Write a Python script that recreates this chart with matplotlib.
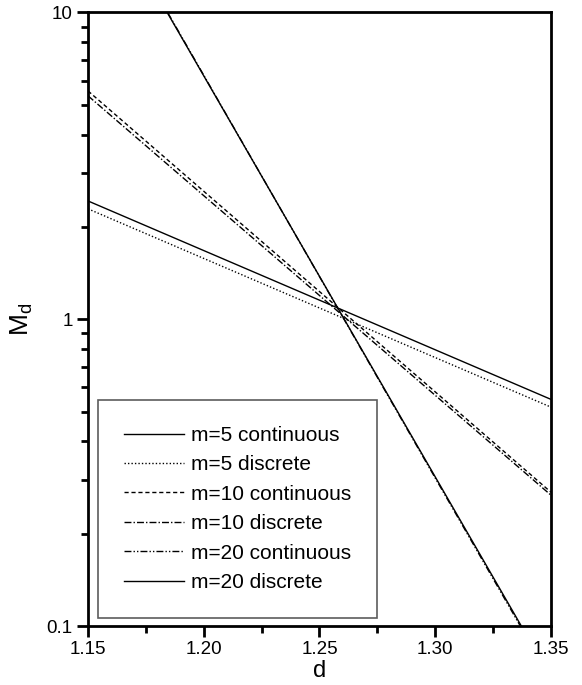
import numpy as np
import matplotlib
matplotlib.use("Agg")
import matplotlib.pyplot as plt
from matplotlib.ticker import LogLocator, FixedLocator, MultipleLocator, NullFormatter, FixedFormatter

plt.rcParams['font.family'] = ['Liberation Sans', 'DejaVu Sans']

## Data (end points, lines are straight on log axis)
d = [1.15, 1.35]
m5_cont = [2.43, 0.548]
m5_disc = [2.29, 0.517]
m10_cont = [5.55, 0.273]
m10_disc = [5.35, 0.267]
m20_cont = [28.3, 0.067]
m20_disc = [28.0, 0.068]

labels = ["m=5 continuous", "m=5 discrete", "m=10 continuous",
          "m=10 discrete", "m=20 continuous", "m=20 discrete"]

## Plot
fig = plt.figure(figsize=(5.82, 6.85), dpi=100)
ax = fig.add_axes([0.1512, 0.0861, 0.7955, 0.8957])

ax.plot(d, m5_cont, color="black", lw=1.0, ls="-", label=labels[0])
ax.plot(d, m5_disc, color="black", lw=1.0, ls=(0, (1, 1.5)), label=labels[1])
ax.plot(d, m10_cont, color="black", lw=1.0, ls=(0, (3, 2)), label=labels[2])
ax.plot(d, m10_disc, color="black", lw=1.0, ls=(0, (5, 1.5, 1, 1.5)), label=labels[3])
ax.plot(d, m20_cont, color="black", lw=1.0, ls=(0, (5, 1.5, 1, 1.5, 1, 1.5)), label=labels[4])
ax.plot(d, m20_disc, color="black", lw=1.0, ls="-", label=labels[5])

ax.set_yscale("log")
ax.set_xlim(1.15, 1.35)
ax.set_ylim(0.1, 10)

ax.xaxis.set_major_locator(MultipleLocator(0.05))
ax.xaxis.set_minor_locator(MultipleLocator(0.025))
ax.xaxis.set_major_formatter(plt.FormatStrFormatter("%.2f"))
ax.yaxis.set_major_locator(FixedLocator([0.1, 1, 10]))
ax.yaxis.set_major_formatter(FixedFormatter(["0.1", "1", "10"]))
ax.yaxis.set_minor_locator(LogLocator(base=10, subs=np.arange(2, 10)))
ax.yaxis.set_minor_formatter(NullFormatter())

ax.tick_params(which="both", direction="out", top=False, right=False,
               width=2, labelsize=13.5)
ax.tick_params(which="major", length=8, pad=3)
ax.tick_params(which="minor", length=5)
for sp in ax.spines.values():
    sp.set_linewidth(2)

ax.set_xlabel("d", fontsize=17, labelpad=1)
ax.set_ylabel("M$_\\mathregular{d}$", fontsize=19, labelpad=8)

leg = ax.legend(loc="lower left", bbox_to_anchor=(0.0216, 0.013), fontsize=15,
                frameon=True, fancybox=False, edgecolor="#333333",
                borderpad=1.25, labelspacing=0.5, handlelength=2.9,
                handletextpad=0.3, borderaxespad=0)
leg.get_frame().set_linewidth(1.2)

fig.savefig("out.png", dpi=100)
